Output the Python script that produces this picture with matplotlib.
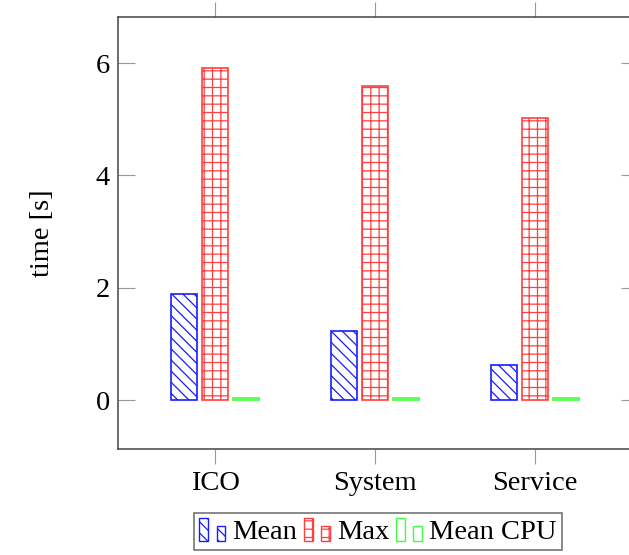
import numpy as np
import matplotlib
matplotlib.use("Agg")
import matplotlib.pyplot as plt
from matplotlib.patches import Rectangle
from matplotlib.legend_handler import HandlerBase

# ---- data ----
categories = ["ICO", "System", "Service"]
mean_vals = [1.89, 1.23, 0.63]
max_vals = [5.92, 5.60, 5.03]
cpu_vals = [0.04, 0.03, 0.04]
series_names = ["Mean", "Max", "Mean CPU"]

plt.rcParams['font.family'] = ['Liberation Serif', 'DejaVu Serif']
plt.rcParams['hatch.linewidth'] = 0.9
FS = 20.5

W, H = 629, 555
fig = plt.figure(figsize=(W / 100, H / 100), dpi=100)
# axes spans past the right edge of the picture, like the original crop
left, right, top, bottom = 118, 638, 17, 449
ax = fig.add_axes([left / W, 1 - bottom / H, (right - left) / W, (bottom - top) / H])

x = np.arange(len(categories))
bw = 0.163
off = 0.195
styles = [
    dict(edgecolor='#1a1aff', hatch='\\\\\\'),
    dict(edgecolor='#ff4040', hatch='++'),
    dict(edgecolor='#40ff40', hatch=None),
]
bars = []
for i, vals in enumerate([mean_vals, max_vals, cpu_vals]):
    b = ax.bar(x + (i - 1) * off, vals, bw, facecolor='white', linewidth=1.2,
               label=series_names[i], **styles[i])
    bars.append(b)

ax.set_xlim(-0.606, 2.644)
ax.set_ylim(-0.87, 6.82)
ax.set_xticks(x)
ax.set_xticklabels(categories, fontsize=FS)
ax.set_yticks([0, 2, 4, 6])
ax.set_yticklabels(["0", "2", "4", "6"], fontsize=FS)
ax.tick_params(axis='x', which='both', direction='out', length=11, width=0.8,
               color='#999999', top=True, labeltop=False, pad=5)
ax.tick_params(axis='y', which='both', direction='in', length=12, width=0.8,
               color='#999999', right=True, pad=6)
for s in ax.spines.values():
    s.set_color('#444444')
    s.set_linewidth(1.1)
ax.set_ylabel("time [s]", fontsize=FS, labelpad=29)


class TwoBars(HandlerBase):
    # pgfplots-style ybar legend image: two small bars
    def create_artists(self, legend, orig_handle, xdescent, ydescent,
                       width, height, fontsize, trans):
        p = orig_handle.patches[0]
        ec = p.get_edgecolor()
        hatch = p.get_hatch()
        bwid = width * 0.33
        out = []
        for x0, h in [(0, height * 1.15), (width * 0.67, height * 0.78)]:
            r = Rectangle((x0 - xdescent, -ydescent - 2), bwid, h,
                          facecolor='white', edgecolor=ec, hatch=hatch,
                          linewidth=1.0, transform=trans)
            out.append(r)
        return out


hmap = {b: TwoBars() for b in bars}
leg = fig.legend(bars, series_names, loc='upper center', ncol=3, fontsize=FS,
                 bbox_to_anchor=(378 / W, 1 - 513 / H), borderaxespad=0,
                 frameon=True, fancybox=False, handlelength=0.9,
                 handletextpad=0.25, columnspacing=0.25, borderpad=0.2,
                 handler_map=hmap)
leg.get_frame().set_edgecolor('#444444')
leg.get_frame().set_linewidth(1.1)

fig.savefig("out.png", dpi=100)
